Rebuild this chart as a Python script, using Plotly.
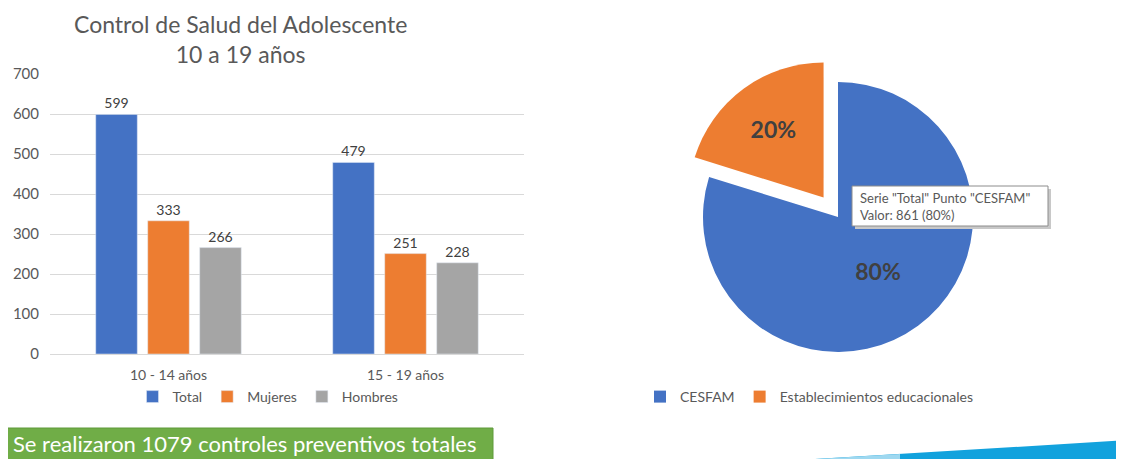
import plotly.graph_objects as go

W, H = 1124, 459
OFF = 8  # page body margin

# ---- data ----
categories = ["10 - 14 años", "15 - 19 años"]
total = [599, 479]
mujeres = [333, 251]
hombres = [266, 228]

pie_labels = ["CESFAM", "Establecimientos educacionales"]
pie_values = [861, 218]

y_ticks = [0, 100, 200, 300, 400, 500, 600, 700]

BLUE = "#4472C4"
ORANGE = "#ED7D31"
GRAY = "#A5A5A5"
TXT = "#595959"
FONT = "Lato"


def px(x):
    return (x - OFF) / W


def py(y):
    return 1 - (y - OFF) / H


fig = go.Figure()

for name, vals, col in [("Total", total, BLUE), ("Mujeres", mujeres, ORANGE), ("Hombres", hombres, GRAY)]:
    fig.add_trace(go.Bar(
        x=categories, y=vals, name=name, marker_color=col,
        text=vals, textposition="outside", cliponaxis=False,
        textfont=dict(size=14, color="#404040", family=FONT),
        legend="legend",
    ))

fig.add_trace(go.Pie(
    labels=pie_labels, values=pie_values, sort=False, direction="clockwise",
    rotation=0, pull=[0, 0.18], automargin=False,
    marker=dict(colors=[BLUE, ORANGE], line=dict(width=0)),
    texttemplate="%{percent:.0%}", textposition="inside",
    insidetextorientation="horizontal",
    textfont=dict(size=23, color="#404040", family=FONT, weight="bold"),
    domain=dict(x=[px(838 - 159.3), px(838 + 159.3)], y=[py(217 + 159.3), py(217 - 159.3)]),
    legend="legend2", showlegend=True,
))

fig.update_layout(
    width=W, height=H,
    margin=dict(l=0, r=0, t=0, b=0, autoexpand=False),
    paper_bgcolor="white", plot_bgcolor="white",
    font=dict(family=FONT, color=TXT, size=14),
    barmode="group", bargap=0.342, bargroupgap=0.2,
    xaxis=dict(domain=[px(50), px(524)], showgrid=False, showline=True,
               linecolor="#D9D9D9", linewidth=1, ticks="", automargin=False,
               ticklabelstandoff=8, tickfont=dict(size=14, color=TXT)),
    yaxis=dict(domain=[py(354), py(74)], range=[0, 700], tickvals=y_ticks,
               showgrid=True, gridcolor="#D9D9D9", gridwidth=1, zeroline=False,
               showline=False, ticks="", automargin=False, ticklabelstandoff=10,
               tickfont=dict(size=15, color=TXT)),
    legend=dict(orientation="h", x=px(268), xanchor="center", y=py(397), yanchor="middle",
                font=dict(size=14, color=TXT), bgcolor="rgba(0,0,0,0)"),
    legend2=dict(orientation="h", x=px(640), xanchor="left", y=py(397), yanchor="middle",
                 font=dict(size=14, color=TXT), bgcolor="rgba(0,0,0,0)"),
    showlegend=True,
)

shapes = [
    # tooltip shadow + box
    dict(type="rect", xref="paper", yref="paper", x0=px(855), x1=px(1051), y0=py(189), y1=py(229),
         fillcolor="#C8C8C8", line=dict(width=0), layer="above"),
    dict(type="rect", xref="paper", yref="paper", x0=px(852), x1=px(1048), y0=py(186), y1=py(226),
         fillcolor="white", line=dict(color="#8C8C8C", width=1), layer="above"),
    # green banner
    dict(type="rect", xref="paper", yref="paper", x0=px(0), x1=px(493), y0=py(428), y1=py(470),
         fillcolor="#70AD47", line=dict(color="#5E9A3A", width=1), layer="above"),
    # blue swoosh
    dict(type="path", xref="paper", yref="paper",
         path=f"M {px(815)},{py(459)} L {px(1130)},{py(440)} L {px(1130)},{py(470)} L {px(815)},{py(470)} Z",
         fillcolor="#12A2DD", line=dict(width=0), layer="above"),
    dict(type="path", xref="paper", yref="paper",
         path=f"M {px(815)},{py(459)} L {px(900)},{py(454)} L {px(900)},{py(470)} L {px(815)},{py(470)} Z",
         fillcolor="#9ED8F0", line=dict(width=0), layer="above"),
]

pct = round(100 * pie_values[0] / sum(pie_values))
annotations = [
    dict(text="Control de Salud del Adolescente<br>10 a 19 años", xref="paper", yref="paper",
         x=px(240), y=py(39), xanchor="center", yanchor="middle", showarrow=False,
         font=dict(size=23, color=TXT, family=FONT)),
    dict(text=f'Serie "Total" Punto "{pie_labels[0]}"<br>Valor: {pie_values[0]} ({pct}%)',
         xref="paper", yref="paper", x=px(858), y=py(206), xanchor="left", yanchor="middle",
         align="left", showarrow=False, font=dict(size=13, color=TXT, family=FONT)),
    dict(text=f"Se realizaron {sum(pie_values)} controles preventivos totales",
         xref="paper", yref="paper", x=px(11), y=py(443), xanchor="left", yanchor="middle",
         showarrow=False, font=dict(size=22, color="white", family=FONT)),
]

fig.update_layout(shapes=shapes, annotations=annotations)

fig.write_html("out.html")
